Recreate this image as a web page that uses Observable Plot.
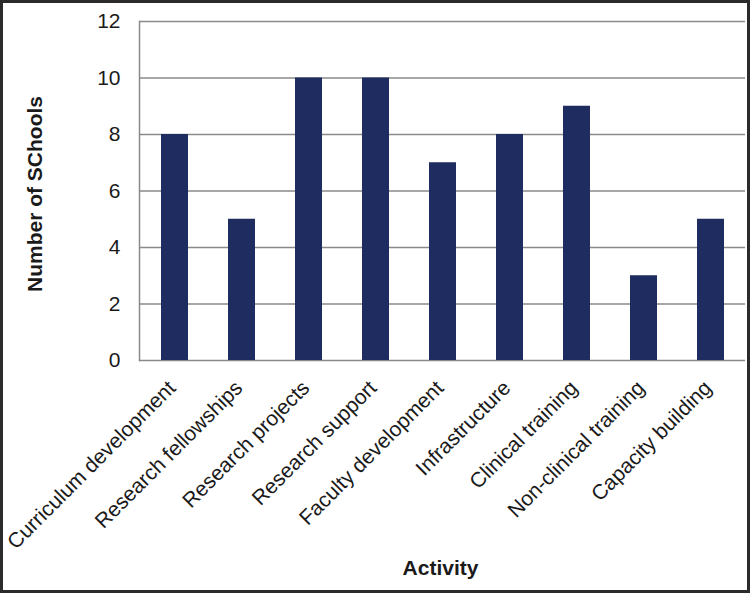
<!DOCTYPE html>
<html>
<head>
<meta charset="utf-8">
<script src="https://cdn.jsdelivr.net/npm/d3@7"></script>
<script src="https://cdn.jsdelivr.net/npm/@observablehq/plot@0.6"></script>
<style>
  html, body { margin: 0; padding: 0; background: #fff; }
  #chart svg { display: block; outline: 3px solid #2b2b2b; outline-offset: -3px; }
</style>
</head>
<body>
<div id="chart"></div>
<script>
const activities = [
  "Curriculum development",
  "Research fellowships",
  "Research projects",
  "Research support",
  "Faculty development",
  "Infrastructure",
  "Clinical training",
  "Non-clinical training",
  "Capacity building"
];
const schools = [8, 5, 10, 10, 7, 8, 9, 3, 5];
const yTicks = [0, 2, 4, 6, 8, 10, 12];
const xTitle = "Activity";
const yTitle = "Number of SChools";

const data = activities.map((a, i) => ({activity: a, value: schools[i]}));

const font = "Arial, 'Liberation Sans', sans-serif";

const chart = Plot.plot({
  width: 750,
  height: 593,
  marginLeft: 139,
  marginRight: 5,
  marginTop: 21,
  marginBottom: 233,
  style: {fontFamily: font, fontSize: "20px", background: "#fff", color: "#1a1a1a"},
  x: {domain: activities, paddingInner: 0.6, paddingOuter: 0.3, label: null},
  y: {domain: [0, 12], label: null},
  marks: [
    Plot.gridY(yTicks, {stroke: "#8a8a8a", strokeOpacity: 1, strokeWidth: 1.5}),
    Plot.frame({anchor: "left", stroke: "#8a8a8a", strokeWidth: 1.5}),
    Plot.barY(data, {x: "activity", y: "value", fill: "#1f2c60"}),
    Plot.axisY(yTicks, {tickSize: 0, tickPadding: 19, fontSize: 21, fill: "#1a1a1a", label: null}),
    Plot.axisX({tickSize: 0, tickRotate: -45, fontSize: 21, fill: "#1a1a1a", tickPadding: 0, dy: 24, dx: -3, textAnchor: "end", label: null}),
    Plot.text([yTitle], {frameAnchor: "left", textAnchor: "middle", lineAnchor: "middle", dx: -104, dy: 3, rotate: -90, fontWeight: "bold", fontSize: 21, fill: "#1a1a1a"}),
    Plot.text([xTitle], {frameAnchor: "bottom", textAnchor: "middle", lineAnchor: "middle", dx: -2, dy: 208, fontWeight: "bold", fontSize: 21, fill: "#1a1a1a"})
  ]
});
document.getElementById("chart").appendChild(chart);
</script>
</body>
</html>
